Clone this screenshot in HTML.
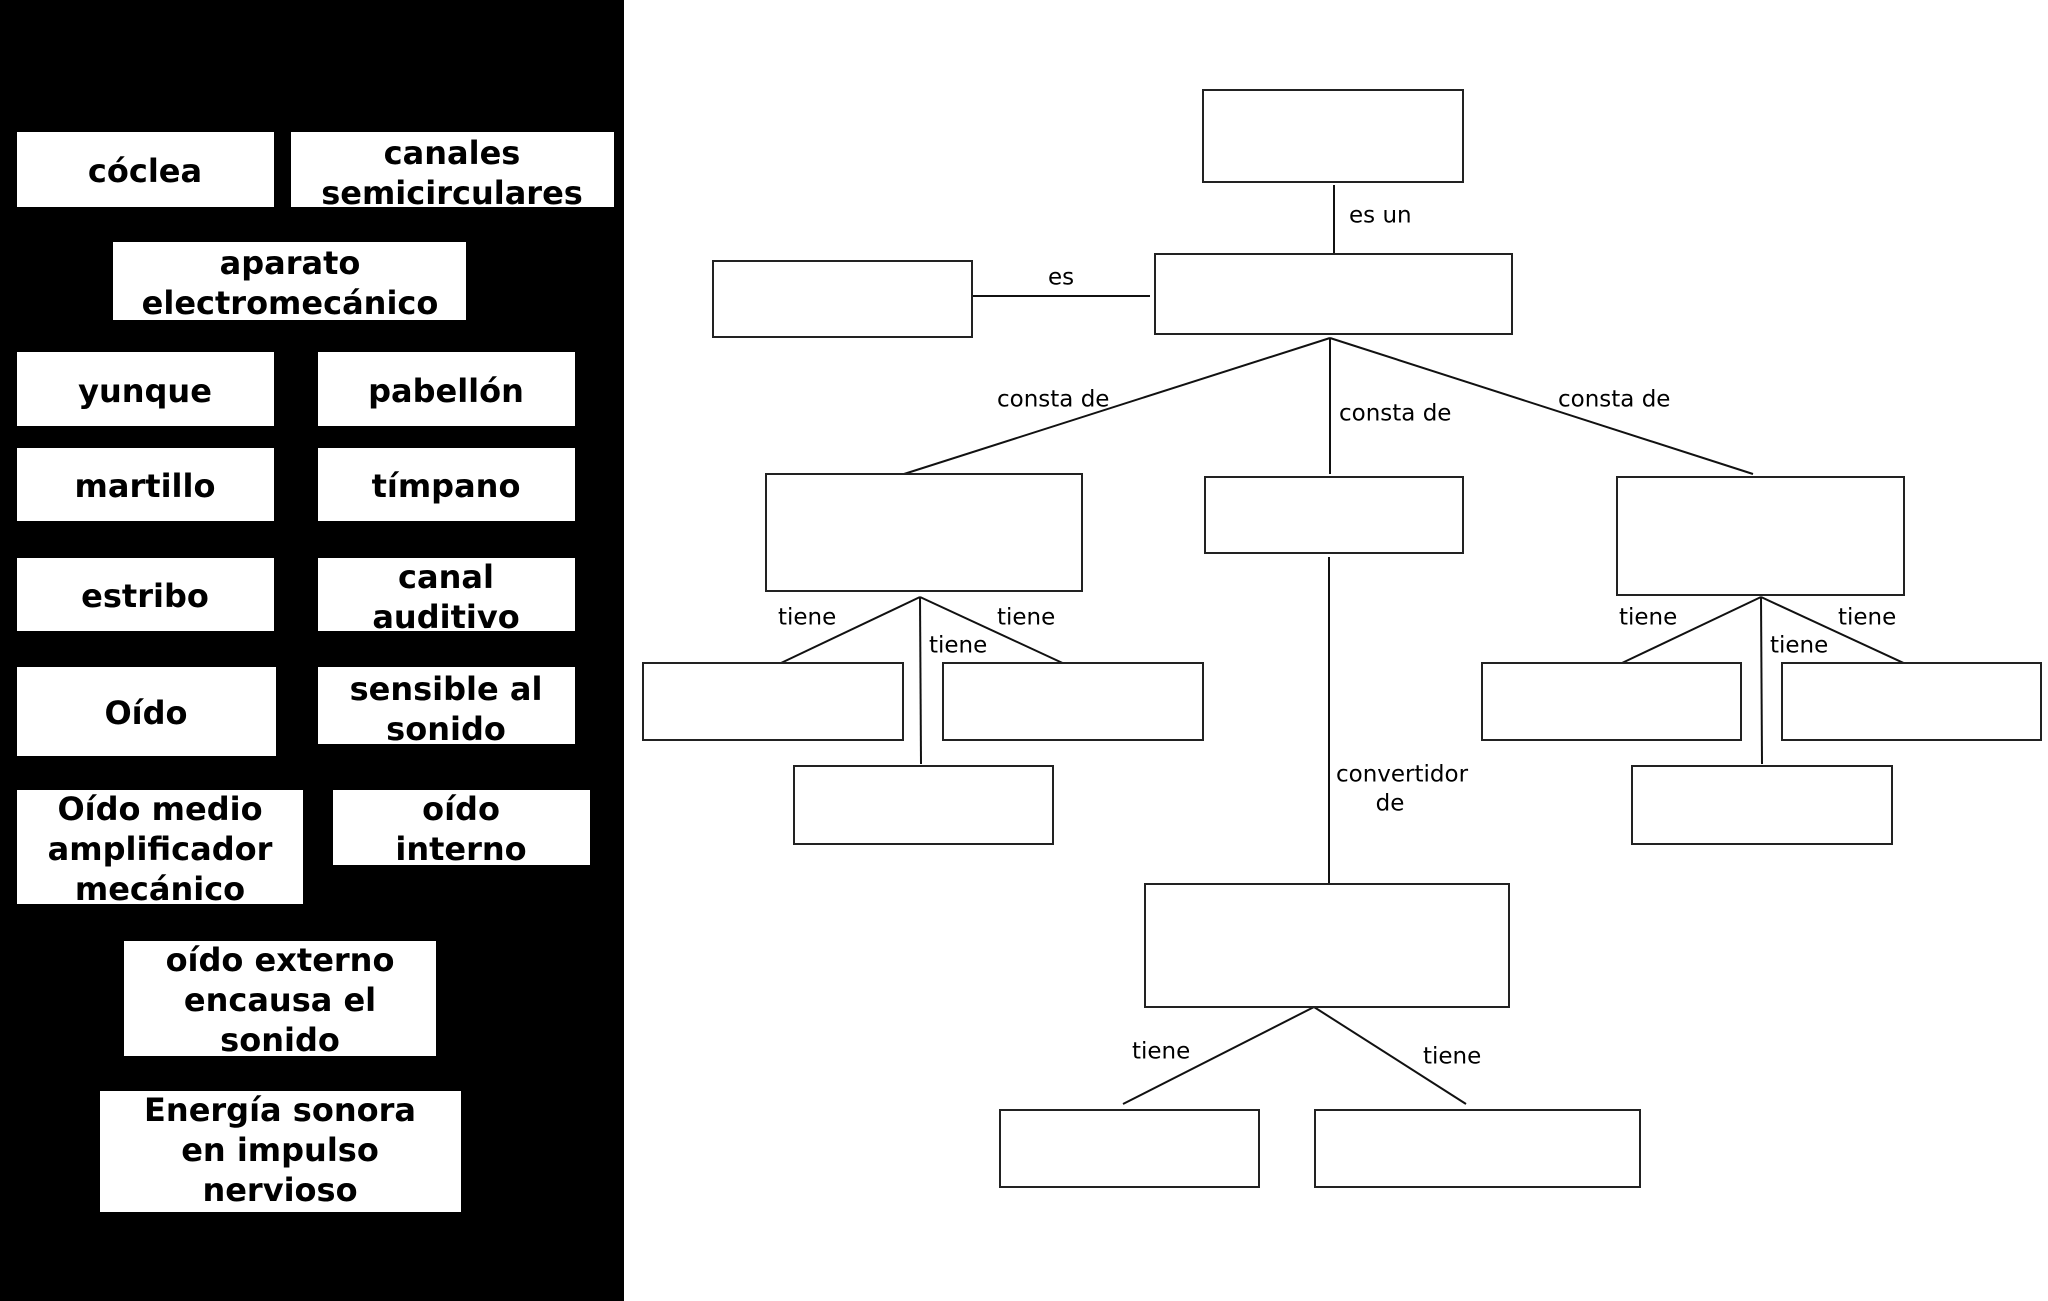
<!DOCTYPE html>
<html><head><meta charset="utf-8"><style>
html,body{margin:0;padding:0;background:#fff;}
svg{display:block}
.w{font-family:"DejaVu Sans","Liberation Sans",sans-serif;font-weight:bold;font-size:32px;fill:#000;text-anchor:middle}
.l{font-family:"DejaVu Sans","Liberation Sans",sans-serif;font-size:23px;fill:#000;dominant-baseline:middle}
.b{fill:#fff;stroke:#222;stroke-width:2}
line{stroke:#111;stroke-width:2}
</style></head><body>
<svg width="2048" height="1301" viewBox="0 0 2048 1301" xmlns="http://www.w3.org/2000/svg">
<rect x="0" y="0" width="2048" height="1301" fill="#fff"/>
<rect x="0" y="0" width="624" height="1301" fill="#000"/>
<g fill="#fff">
<rect x="17" y="132" width="257" height="75"/>
<rect x="291" y="132" width="323" height="75"/>
<rect x="113" y="242" width="353" height="78"/>
<rect x="17" y="352" width="257" height="74"/>
<rect x="318" y="352" width="257" height="74"/>
<rect x="17" y="448" width="257" height="73"/>
<rect x="318" y="448" width="257" height="73"/>
<rect x="17" y="558" width="257" height="73"/>
<rect x="318" y="558" width="257" height="73"/>
<rect x="17" y="667" width="259" height="89"/>
<rect x="318" y="667" width="257" height="77"/>
<rect x="17" y="790" width="286" height="114"/>
<rect x="333" y="790" width="257" height="75"/>
<rect x="124" y="941" width="312" height="115"/>
<rect x="100" y="1091" width="361" height="121"/>
</g>
<text class="w" x="145" y="182">cóclea</text>
<text class="w" x="452" y="164">canales</text>
<text class="w" x="452" y="204">semicirculares</text>
<text class="w" x="290" y="274">aparato</text>
<text class="w" x="290" y="314">electromecánico</text>
<text class="w" x="145" y="402">yunque</text>
<text class="w" x="446" y="402">pabellón</text>
<text class="w" x="145" y="497">martillo</text>
<text class="w" x="446" y="497">tímpano</text>
<text class="w" x="145" y="607">estribo</text>
<text class="w" x="446" y="588">canal</text>
<text class="w" x="446" y="628">auditivo</text>
<text class="w" x="146" y="724">Oído</text>
<text class="w" x="446" y="700">sensible al</text>
<text class="w" x="446" y="740">sonido</text>
<text class="w" x="160" y="820">Oído medio</text>
<text class="w" x="160" y="860">amplificador</text>
<text class="w" x="160" y="900">mecánico</text>
<text class="w" x="461" y="820">oído</text>
<text class="w" x="461" y="860">interno</text>
<text class="w" x="280" y="971">oído externo</text>
<text class="w" x="280" y="1011">encausa el</text>
<text class="w" x="280" y="1051">sonido</text>
<text class="w" x="280" y="1121">Energía sonora</text>
<text class="w" x="280" y="1161">en impulso</text>
<text class="w" x="280" y="1201">nervioso</text>

<line x1="1334" y1="185" x2="1334" y2="254"/>
<line x1="972" y1="296" x2="1150" y2="296"/>
<line x1="1330" y1="338" x2="904" y2="474"/>
<line x1="1330" y1="338" x2="1330" y2="474"/>
<line x1="1330" y1="338" x2="1753" y2="474"/>
<line x1="920" y1="597" x2="781" y2="663"/>
<line x1="920" y1="597" x2="921" y2="764"/>
<line x1="920" y1="597" x2="1069" y2="666"/>
<line x1="1761" y1="597" x2="1622" y2="663"/>
<line x1="1761" y1="597" x2="1762" y2="764"/>
<line x1="1761" y1="597" x2="1910" y2="666"/>
<line x1="1329" y1="557" x2="1329" y2="884"/>
<line x1="1314" y1="1007" x2="1123" y2="1104"/>
<line x1="1314" y1="1007" x2="1466" y2="1104"/>

<rect class="b" x="1203" y="90" width="260" height="92"/>
<rect class="b" x="713" y="261" width="259" height="76"/>
<rect class="b" x="1155" y="254" width="357" height="80"/>
<rect class="b" x="766" y="474" width="316" height="117"/>
<rect class="b" x="1205" y="477" width="258" height="76"/>
<rect class="b" x="1617" y="477" width="287" height="118"/>
<rect class="b" x="643" y="663" width="260" height="77"/>
<rect class="b" x="943" y="663" width="260" height="77"/>
<rect class="b" x="794" y="766" width="259" height="78"/>
<rect class="b" x="1482" y="663" width="259" height="77"/>
<rect class="b" x="1782" y="663" width="259" height="77"/>
<rect class="b" x="1632" y="766" width="260" height="78"/>
<rect class="b" x="1145" y="884" width="364" height="123"/>
<rect class="b" x="1000" y="1110" width="259" height="77"/>
<rect class="b" x="1315" y="1110" width="325" height="77"/>

<text class="l" x="1349" y="216">es un</text>
<text class="l" x="1048" y="278">es</text>
<text class="l" x="997" y="400">consta de</text>
<text class="l" x="1339" y="414">consta de</text>
<text class="l" x="1558" y="400">consta de</text>
<text class="l" x="778" y="618">tiene</text>
<text class="l" x="929" y="646">tiene</text>
<text class="l" x="997" y="618">tiene</text>
<text class="l" x="1619" y="618">tiene</text>
<text class="l" x="1770" y="646">tiene</text>
<text class="l" x="1838" y="618">tiene</text>
<text class="l" x="1336" y="775">convertidor</text>
<text class="l" x="1390" y="804" text-anchor="middle">de</text>
<text class="l" x="1132" y="1052">tiene</text>
<text class="l" x="1423" y="1057">tiene</text>
</svg>
</body></html>
